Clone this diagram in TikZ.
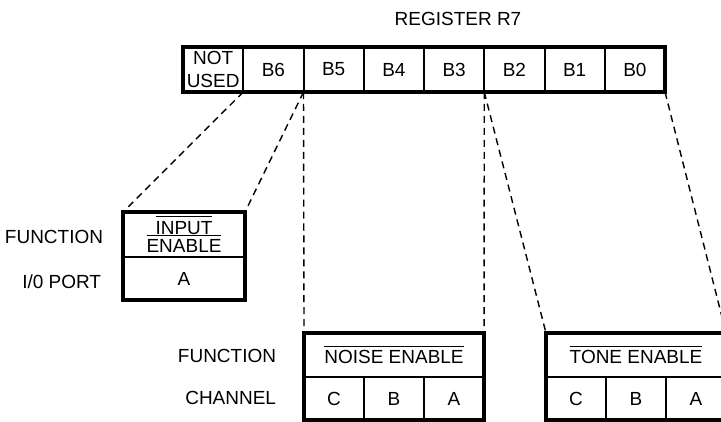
\documentclass[tikz,border=0pt]{standalone}
\usepackage{fontspec}
\setmainfont{Liberation Sans}
\usetikzlibrary{positioning}

% overline for the active-low signal names
\newcommand{\ovl}[1]{\leavevmode\vbox{\hrule height 0.8pt\kern2.6pt\hbox{#1}}}

\tikzset{
  txt/.style={font=\fontsize{13.5}{16}\selectfont},
  cell/.style={txt, draw, line width=1.4pt, inner sep=0pt, outer sep=0pt,
    minimum width=1.506cm, minimum height=1.125cm},
  sub/.style={txt, draw, line width=1.4pt, inner sep=0pt, outer sep=0pt,
    minimum width=1.5cm, minimum height=1.075cm},
  outer/.style={line width=2.6pt},
  dsh/.style={line width=1pt, dash pattern=on 5pt off 3.5pt},
}

\begin{document}
\begin{tikzpicture}[x=0.025cm,y=-0.025cm]
    \clip (0,0) rectangle (721,421);

    % titulo
    \node[txt] (title) at (458,19) {REGISTER R7};

    % registro
    \node[cell, anchor=north west, align=center, font=\fontsize{13.5}{16}\selectfont] (nu) at (183,47) {NOT\\USED};
    \foreach \n/\t [remember=\n as \p (initially nu)] in {b6/B6,b5/B5,b4/B4,b3/B3,b2/B2,b1/B1,b0/B0}
        \node[cell, right=0pt of \p] (\n) {\t};
    \draw[outer] (nu.north west) rectangle (b0.south east);

    % entrada
    \node[cell, anchor=north west, minimum width=3.05cm, align=center,
          font=\fontsize{13.5}{13.2}\selectfont] (ie) at (123,212) {\ovl{INPUT}\\\ovl{ENABLE}};
    \node[sub, anchor=north west, minimum width=3.05cm] (ia) at (ie.south west) {A};
    \draw[outer] (ie.north west) rectangle (ia.south east);

    % ruido
    \node[cell, anchor=north west, minimum width=4.5cm, minimum height=1.1cm] (ne) at (304,333) {\ovl{NOISE ENABLE}};
    \node[sub, anchor=north west] (nc) at (ne.south west) {C};
    \node[sub, right=0pt of nc] (nb) {B};
    \node[sub, right=0pt of nb] (na) {A};
    \draw[outer] (ne.north west) rectangle (na.south east);

    % tom
    \node[cell, anchor=north west, minimum width=4.5cm, minimum height=1.1cm] (te) at (546,333) {\ovl{TONE ENABLE}};
    \node[sub, anchor=north west] (tc) at (te.south west) {C};
    \node[sub, right=0pt of tc] (tb) {B};
    \node[sub, right=0pt of tb] (ta) {A};
    \draw[outer] (te.north west) rectangle (ta.south east);

    % rotulos
    \node[txt, anchor=east] (f1) at (108,237) {FUNCTION};
    \node[txt, anchor=east] (p1) at (106,282) {I/0 PORT};
    \node[txt, anchor=east] (f2) at (281,356) {FUNCTION};
    \node[txt, anchor=east] (ch) at (281,398) {CHANNEL};

    % linhas tracejadas
    \draw[dsh] (nu.south east) -- (ie.north west);
    \draw[dsh] (b6.south east) -- (ie.north east);
    \draw[dsh] (b6.south east) -- (ne.north west);
    \draw[dsh] (b3.south east) -- (ne.north east);
    \draw[dsh] (b3.south east) -- (te.north west);
    \draw[dsh] (b0.south east) -- (te.north east);
\end{tikzpicture}
\end{document}
